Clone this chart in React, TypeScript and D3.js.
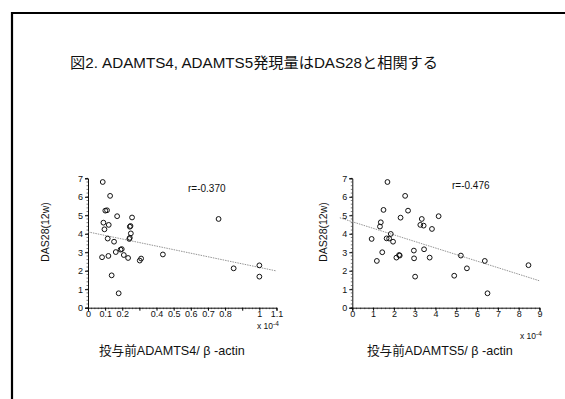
import React, { useEffect, useRef } from "react";
import * as d3 from "d3";

// ADAMTS4/β-actin (x 10^-4) vs DAS28(12w)
const adamts4X = [
  0.086, 0.129, 0.101, 0.111, 0.17, 0.257, 0.09, 0.121, 0.096, 0.244, 0.248,
  0.25, 0.115, 0.241, 0.244, 0.152, 0.082, 0.119, 0.162, 0.19, 0.197, 0.209,
  0.234, 0.302, 0.31, 0.138, 0.179, 0.437, 0.762, 0.85, 1.0, 1.0,
];
const adamts4Y = [
  6.8, 6.05, 5.25, 5.27, 4.95, 4.88, 4.6, 4.48, 4.24, 4.38, 4.42, 4.02, 3.74,
  3.72, 3.78, 3.57, 2.73, 2.8, 3.01, 3.14, 3.17, 2.85, 2.69, 2.55, 2.66, 1.75,
  0.78, 2.88, 4.8, 2.13, 2.29, 1.68,
];

// ADAMTS5/β-actin (x 10^-4) vs DAS28(12w)
const adamts5X = [
  1.69, 2.54, 1.5, 2.68, 1.37, 1.33, 2.32, 3.34, 3.27, 3.43, 3.83, 4.15, 1.85,
  0.93, 1.65, 1.77, 1.96, 1.44, 1.18, 2.12, 2.25, 2.28, 2.96, 2.97, 3.45, 3.72,
  3.02, 4.9, 5.22, 5.51, 6.37, 6.5, 8.47,
];
const adamts5Y = [
  6.8, 6.05, 5.29, 5.25, 4.62, 4.39, 4.87, 4.8, 4.48, 4.44, 4.26, 4.95, 3.99,
  3.72, 3.75, 3.74, 3.57, 3.0, 2.53, 2.71, 2.85, 2.82, 3.09, 2.67, 3.16, 2.71,
  1.68, 1.73, 2.82, 2.13, 2.53, 0.78, 2.3,
];

const yTicks = [0, 1, 2, 3, 4, 5, 6, 7];
const xTicks4 = [0, 0.1, 0.2, 0.3, 0.4, 0.5, 0.6, 0.7, 0.8, 0.9, 1, 1.1];
const xHidden4 = [0.3, 0.9];
const xTicks5 = [0, 1, 2, 3, 4, 5, 6, 7, 8, 9];

// regression lines: [intercept, slope], drawn between x extents
const fit4 = [4.1, -1.92];
const fit5 = [4.65, -0.355];
const fitExtent4 = [0, 1.1];
const fitExtent5 = [-0.6, 9];

const FONT = "'Liberation Sans', Arial, 'Noto Sans CJK JP', sans-serif";

type PanelProps = {
  xs: number[];
  ys: number[];
  xDomain: [number, number];
  xRange: [number, number];
  xTicks: number[];
  xHidden: number[];
  minorX: number;
  fit: number[];
  fitExtent: number[];
  r: string;
  rPos: [number, number];
  expPos: [number, number];
  yLabelX: number;
  xTitle: string;
  xTitleX: number;
};

const Panel: React.FC<PanelProps> = (p) => {
  const gRef = useRef<SVGGElement>(null);

  useEffect(() => {
    if (!gRef.current) return;
    const g = d3.select(gRef.current);
    g.selectAll("*").remove();

    const x = d3.scaleLinear().domain(p.xDomain).range(p.xRange);
    const y = d3.scaleLinear().domain([0, 7]).range([307.7, 178.3]);

    // minor ticks
    const minorXs = d3.range(p.xDomain[0], p.xDomain[1] + 1e-9, p.minorX);
    g.append("g")
      .selectAll("line")
      .data(minorXs)
      .enter()
      .append("line")
      .attr("x1", (d) => x(d))
      .attr("x2", (d) => x(d))
      .attr("y1", y(0))
      .attr("y2", y(0) + 1.5)
      .attr("stroke", "#222")
      .attr("stroke-width", 0.6);
    g.append("g")
      .selectAll("line")
      .data(d3.range(0, 7.001, 0.2))
      .enter()
      .append("line")
      .attr("x1", x(0))
      .attr("x2", x(0) - 1.5)
      .attr("y1", (d) => y(d))
      .attr("y2", (d) => y(d))
      .attr("stroke", "#222")
      .attr("stroke-width", 0.6);

    const xAxis = g
      .append("g")
      .attr("transform", `translate(0,${y(0)})`)
      .call(
        d3
          .axisBottom(x)
          .tickValues(p.xTicks)
          .tickSize(3)
          .tickPadding(0)
          .tickFormat((d) =>
            p.xHidden.some((h) => Math.abs(h - +d) < 1e-9) ? "" : d3.format("~g")(+d)
          )
      );
    xAxis.select(".domain").attr("stroke", "#111").attr("stroke-width", 1);
    xAxis.selectAll("text").attr("font-size", 9).attr("font-family", FONT).attr("fill", "#111");

    const yAxis = g
      .append("g")
      .attr("transform", `translate(${x(0)},0)`)
      .call(
        d3
          .axisLeft(y)
          .tickValues(yTicks)
          .tickSize(3)
          .tickPadding(2)
          .tickFormat(d3.format("d"))
      );
    yAxis.select(".domain").attr("stroke", "#111").attr("stroke-width", 1);
    yAxis.selectAll("text").attr("font-size", 9).attr("font-family", FONT).attr("fill", "#111");

    // regression line
    const line = d3
      .line<number>()
      .x((d) => x(d))
      .y((d) => y(p.fit[0] + p.fit[1] * d));
    g.append("path")
      .attr("d", line(p.fitExtent))
      .attr("fill", "none")
      .attr("stroke", "#888")
      .attr("stroke-width", 0.9)
      .attr("stroke-dasharray", "1.5,1");

    // points
    g.append("g")
      .selectAll("circle")
      .data(p.xs.map((v, i) => [v, p.ys[i]]))
      .enter()
      .append("circle")
      .attr("cx", (d) => x(d[0]))
      .attr("cy", (d) => y(d[1]))
      .attr("r", 2.4)
      .attr("fill", "none")
      .attr("stroke", "#111")
      .attr("stroke-width", 1);
  }, [p]);

  return (
    <g fontFamily={FONT} fill="#111">
      <g ref={gRef} />
      <text x={p.rPos[0]} y={p.rPos[1]} fontSize={10} dominantBaseline="middle">
        {p.r}
      </text>
      <text x={p.expPos[0]} y={p.expPos[1]} fontSize={8.5} dominantBaseline="middle">
        x 10<tspan dy={-3} fontSize={6.5}>-4</tspan>
      </text>
      <text
        transform={`translate(${p.yLabelX},232) rotate(-90)`}
        textAnchor="middle"
        dominantBaseline="middle"
        fontSize={10.5}
      >
        DAS28(12w)
      </text>
      <text x={p.xTitleX} y={352} fontSize={12.6} dominantBaseline="middle">
        {p.xTitle}
      </text>
    </g>
  );
};

const App: React.FC = () => {
  return (
    <svg
      width={565}
      height={399}
      style={{ position: "fixed", left: 0, top: 0, background: "white" }}
    >
      <rect x={0} y={0} width={565} height={399} fill="white" />
      <path d="M12,399 V13 H565" fill="none" stroke="#000" strokeWidth={2.2} />
      <text
        x={70}
        y={63.5}
        fontSize={15.2}
        fontFamily={FONT}
        dominantBaseline="middle"
        fill="#111"
      >
        図2. ADAMTS4, ADAMTS5発現量はDAS28と相関する
      </text>
      <Panel
        xs={adamts4X}
        ys={adamts4Y}
        xDomain={[0, 1.1]}
        xRange={[88, 276.5]}
        xTicks={xTicks4}
        xHidden={xHidden4}
        minorX={0.02}
        fit={fit4}
        fitExtent={fitExtent4}
        r="r=-0.370"
        rPos={[188, 189]}
        expPos={[257, 327]}
        yLabelX={46}
        xTitle="投与前ADAMTS4/ β -actin"
        xTitleX={99}
      />
      <Panel
        xs={adamts5X}
        ys={adamts5Y}
        xDomain={[0, 9]}
        xRange={[352.3, 539.5]}
        xTicks={xTicks5}
        xHidden={[]}
        minorX={0.2}
        fit={fit5}
        fitExtent={fitExtent5}
        r="r=-0.476"
        rPos={[452, 186]}
        expPos={[520, 337]}
        yLabelX={324}
        xTitle="投与前ADAMTS5/ β -actin"
        xTitleX={367}
      />
    </svg>
  );
};

export default App;
